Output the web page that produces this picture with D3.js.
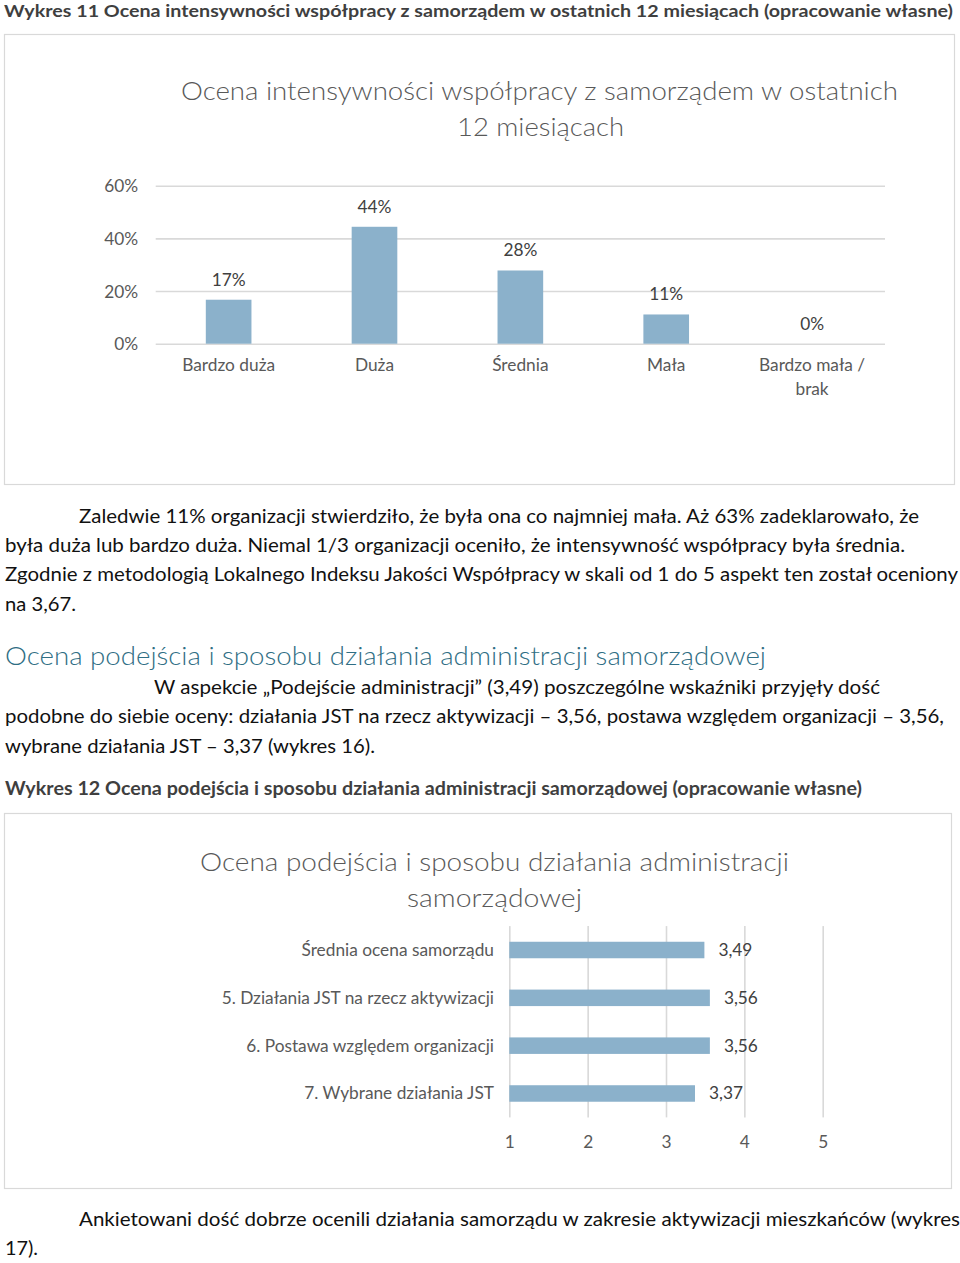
<!DOCTYPE html>
<html>
<head>
<meta charset="utf-8">
<script src="https://cdn.jsdelivr.net/npm/d3@7"></script>
<style>
  html, body { margin: 0; padding: 0; background: #fff; }
  svg { display: block; }
  text { font-family: Lato, "Open Sans", "Liberation Sans", sans-serif; }
</style>
</head>
<body>
<script>
// ---------- DATA ----------
const chart1Categories = ["Bardzo duża", "Duża", "Średnia", "Mała", "Bardzo mała / brak"];
const chart1Values = [0.167, 0.444, 0.278, 0.111, 0.0];
const chart1YTicks = [0, 0.2, 0.4, 0.6];

const chart2Categories = [
  "Średnia ocena samorządu",
  "5. Działania JST na rzecz aktywizacji",
  "6. Postawa względem organizacji",
  "7. Wybrane działania JST"
];
const chart2Values = [3.49, 3.56, 3.56, 3.37];
const chart2XTicks = [1, 2, 3, 4, 5];

// ---------- STYLE ----------
const BAR = "#8bb1cb";
const GRID = "#d9d9d9";
const AXIS_TXT = "#595959";
const BODY = "#111111";
const CAPTION = "#3f3f3f";
const HEAD = "#2f6e84";
const LBL = 17.3;

const svg = d3.select("body").append("svg")
  .attr("width", 960).attr("height", 1263);
svg.append("rect").attr("width", 960).attr("height", 1263).attr("fill", "#fff");

function txt(str, x, y, o = {}) {
  const t = svg.append("text")
    .attr("x", x).attr("y", y)
    .attr("font-size", o.size || 18)
    .attr("font-weight", o.weight || 400)
    .attr("fill", o.color || BODY)
    .attr("text-anchor", o.anchor || "start")
    .text(str);
  if (o.width) t.attr("textLength", o.width).attr("lengthAdjust", "spacingAndGlyphs");
  return t;
}

// ---------- CAPTION 1 ----------
txt("Wykres 11 Ocena intensywności współpracy z samorządem w ostatnich 12 miesiącach (opracowanie własne)",
  4, 16.5, { size: 17.5, weight: 700, color: CAPTION, width: 949 });

// ---------- CHART 1 ----------
svg.append("rect").attr("x", 4.5).attr("y", 34.5).attr("width", 950).attr("height", 450)
  .attr("fill", "none").attr("stroke", GRID).attr("stroke-width", 1.2);

txt("Ocena intensywności współpracy z samorządem w ostatnich", 539.5, 100,
  { size: 26, weight: 300, color: AXIS_TXT, anchor: "middle", width: 717 });
txt("12 miesiącach", 540.5, 136,
  { size: 26, weight: 300, color: AXIS_TXT, anchor: "middle", width: 167 });

const c1 = { left: 155.7, right: 885, top: 185.7, bottom: 343.7 };
const x1 = d3.scaleBand().domain(chart1Categories).range([c1.left, c1.right])
  .paddingInner(0.687).paddingOuter(0.3435);
const y1 = d3.scaleLinear().domain([0, 0.6]).range([c1.bottom, c1.top]);

const yAxis1 = d3.axisLeft(y1).tickValues(chart1YTicks).tickFormat(d3.format(".0%"))
  .tickSize(-(c1.right - c1.left)).tickPadding(17.5);
const gy1 = svg.append("g").attr("transform", `translate(${c1.left},0)`).call(yAxis1);
gy1.select(".domain").remove();
gy1.selectAll(".tick line").attr("stroke", GRID).attr("stroke-width", 1.6);
gy1.selectAll(".tick text").attr("fill", AXIS_TXT).attr("font-size", LBL)
  .attr("font-family", "Lato, sans-serif").attr("dy", "0.36em");

svg.append("g").selectAll("rect").data(chart1Values).join("rect")
  .attr("x", (d, i) => x1(chart1Categories[i]))
  .attr("width", x1.bandwidth())
  .attr("y", d => y1(d))
  .attr("height", d => c1.bottom - y1(d))
  .attr("fill", BAR);

const pct = d3.format(".0%");
svg.append("g").selectAll("text").data(chart1Values).join("text")
  .attr("x", (d, i) => x1(chart1Categories[i]) + x1.bandwidth() / 2)
  .attr("y", d => y1(d) - 14)
  .attr("text-anchor", "middle").attr("font-size", LBL).attr("fill", "#404040")
  .text(d => pct(d));

// category labels with wrapping
const step1 = x1.step();
chart1Categories.forEach((c, i) => {
  const cx = x1(c) + x1.bandwidth() / 2;
  const t = svg.append("text").attr("x", cx).attr("y", 371)
    .attr("text-anchor", "middle").attr("font-size", LBL).attr("fill", AXIS_TXT);
  const words = c.split(" ");
  let line = [];
  let tspan = t.append("tspan").attr("x", cx).attr("dy", 0);
  words.forEach(w => {
    line.push(w);
    tspan.text(line.join(" "));
    if (tspan.node().getComputedTextLength() > step1 - 20 && line.length > 1) {
      line.pop();
      tspan.text(line.join(" "));
      line = [w];
      tspan = t.append("tspan").attr("x", cx).attr("dy", 24).text(w);
    }
  });
});

// ---------- TEXT ----------
txt("Zaledwie 11% organizacji stwierdziło, że była ona co najmniej mała. Aż 63% zadeklarowało, że",
  79, 522.5, { size: 18.5, width: 840 });
txt("była duża lub bardzo duża. Niemal 1/3 organizacji oceniło, że intensywność współpracy była średnia.",
  5, 551.5, { size: 18.5, width: 900 });
txt("Zgodnie z metodologią Lokalnego Indeksu Jakości Współpracy w skali od 1 do 5 aspekt ten został oceniony",
  5, 580.5, { size: 18.5, width: 953 });
txt("na 3,67.", 5, 610.5, { size: 18.5, width: 71 });

txt("Ocena podejścia i sposobu działania administracji samorządowej", 5, 665,
  { size: 26, weight: 300, color: HEAD, width: 761 });

txt("W aspekcie „Podejście administracji” (3,49) poszczególne wskaźniki przyjęły dość",
  154, 693.5, { size: 18.5, width: 726 });
txt("podobne do siebie oceny: działania JST na rzecz aktywizacji – 3,56, postawa względem organizacji – 3,56,",
  5, 722.5, { size: 18.5, width: 939 });
txt("wybrane działania JST – 3,37 (wykres 16).", 5, 752.5, { size: 18.5, width: 370 });

txt("Wykres 12 Ocena podejścia i sposobu działania administracji samorządowej (opracowanie własne)",
  5, 794.5, { size: 18, weight: 700, color: CAPTION, width: 857 });

// ---------- CHART 2 ----------
svg.append("rect").attr("x", 4.5).attr("y", 813.5).attr("width", 947).attr("height", 375)
  .attr("fill", "none").attr("stroke", GRID).attr("stroke-width", 1.2);

txt("Ocena podejścia i sposobu działania administracji", 494.5, 871,
  { size: 26, weight: 300, color: AXIS_TXT, anchor: "middle", width: 589 });
txt("samorządowej", 494.5, 907,
  { size: 26, weight: 300, color: AXIS_TXT, anchor: "middle", width: 175 });

const c2 = { left: 509.3, right: 822.7, top: 926.1, bottom: 1117.4 };
const x2 = d3.scaleLinear().domain([1, 5]).range([c2.left, c2.right]);
const y2 = d3.scaleBand().domain(chart2Categories).range([c2.top, c2.bottom])
  .paddingInner(0.655).paddingOuter(0.3275);

const xAxis2 = d3.axisBottom(x2).tickValues(chart2XTicks).tickFormat(d3.format("d"))
  .tickSize(-(c2.bottom - c2.top)).tickPadding(18);
const gx2 = svg.append("g").attr("transform", `translate(0,${c2.bottom})`).call(xAxis2);
gx2.select(".domain").remove();
gx2.selectAll(".tick line").attr("stroke", GRID).attr("stroke-width", 1.6);
gx2.selectAll(".tick text").attr("fill", AXIS_TXT).attr("font-size", LBL)
  .attr("font-family", "Lato, sans-serif");

svg.append("g").selectAll("rect").data(chart2Values).join("rect")
  .attr("x", c2.left)
  .attr("y", (d, i) => y2(chart2Categories[i]))
  .attr("height", y2.bandwidth())
  .attr("width", d => x2(d) - c2.left)
  .attr("fill", BAR);

const plLocale = d3.formatLocale({ decimal: ",", thousands: " ", grouping: [3], currency: ["", " zł"] });
const f2 = plLocale.format(".2f");
svg.append("g").selectAll("text").data(chart2Values).join("text")
  .attr("x", d => x2(d) + 14)
  .attr("y", (d, i) => y2(chart2Categories[i]) + y2.bandwidth() / 2 + 6)
  .attr("font-size", LBL).attr("fill", "#404040")
  .text(d => f2(d));

svg.append("g").selectAll("text").data(chart2Categories).join("text")
  .attr("x", 494)
  .attr("y", d => y2(d) + y2.bandwidth() / 2 + 6)
  .attr("text-anchor", "end").attr("font-size", LBL).attr("fill", AXIS_TXT)
  .text(d => d);

// ---------- BOTTOM TEXT ----------
txt("Ankietowani dość dobrze ocenili działania samorządu w zakresie aktywizacji mieszkańców (wykres",
  79, 1225.5, { size: 18.5, width: 881 });
txt("17).", 5, 1254.5, { size: 18.5, width: 33 });
</script>
</body>
</html>
